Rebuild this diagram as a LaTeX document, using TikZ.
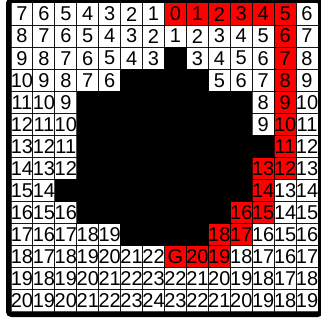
\documentclass[tikz,border=0pt]{standalone}
\usepackage{fontspec}
\setmainfont{Liberation Sans}
\begin{document}
\begin{tikzpicture}[x=1pt,y=-1pt,
  cellline/.style={draw=black, draw opacity=0.7, line width=1pt},
  num/.style={font=\fontsize{20}{20}\selectfont, inner sep=0pt, text=black},
  blocked/.style={fill=black},
  redcell/.style={fill=red},
  frame/.style={draw=black, line width=5pt, rounded corners=3pt}]
\useasboundingbox (0,0) rectangle (321,320);
\def\cw{21.93}
\def\ch{22.07}
\def\blk{-}
\def\grid{
{7,6,5,4,3,2,1,0,1,2,3,4,5,6},
{8,7,6,5,4,3,2,1,2,3,4,5,6,7},
{9,8,7,6,5,4,3,-,3,4,5,6,7,8},
{10,9,8,7,6,-,-,-,-,5,6,7,8,9},
{11,10,9,-,-,-,-,-,-,-,-,8,9,10},
{12,11,10,-,-,-,-,-,-,-,-,9,10,11},
{13,12,11,-,-,-,-,-,-,-,-,-,11,12},
{14,13,12,-,-,-,-,-,-,-,-,13,12,13},
{15,14,-,-,-,-,-,-,-,-,-,14,13,14},
{16,15,16,-,-,-,-,-,-,-,16,15,14,15},
{17,16,17,18,19,-,-,-,-,18,17,16,15,16},
{18,17,18,19,20,21,22,G,20,19,18,17,16,17},
{19,18,19,20,21,22,23,22,21,20,19,18,17,18},
{20,19,20,21,22,23,24,23,22,21,20,19,18,19}}
% red path cells
\foreach \r/\c in {0/7,0/8,0/9,0/10,0/11,0/12,1/12,2/12,3/12,4/12,5/12,6/12,7/11,7/12,8/11,9/10,9/11,10/9,10/10,11/7,11/8,11/9}
  \fill[redcell] ({11+\c*\cw},{3+\r*\ch}) rectangle ++(\cw,\ch);
% cell borders
\foreach \rowlist [count=\r from 0] in \grid {
  \foreach \v [count=\c from 0] in \rowlist {
    \edef\tmp{\v}
    \ifx\tmp\blk\else
      \draw[cellline] ({11+\c*\cw},{3+\r*\ch}) rectangle ++(\cw,\ch);
    \fi
  }
}
% obstacles
\foreach \rowlist [count=\r from 0] in \grid {
  \foreach \v [count=\c from 0] in \rowlist {
    \edef\tmp{\v}
    \ifx\tmp\blk
      \fill[blocked] ({11+\c*\cw-0.2},{3+\r*\ch-0.2}) rectangle ++(\cw+0.4,\ch+0.4);
    \fi
  }
}
% numbers
\foreach \rowlist [count=\r from 0] in \grid {
  \foreach \v [count=\c from 0] in \rowlist {
    \edef\tmp{\v}
    \ifx\tmp\blk\else
      \node[num] (n-\r-\c) at ({11+(\c+0.5)*\cw},{3+(\r+0.5)*\ch}) {\v};
    \fi
  }
}
\draw[frame] (8.5,0.5) rectangle (320.5,314.5);
\end{tikzpicture}
\end{document}
